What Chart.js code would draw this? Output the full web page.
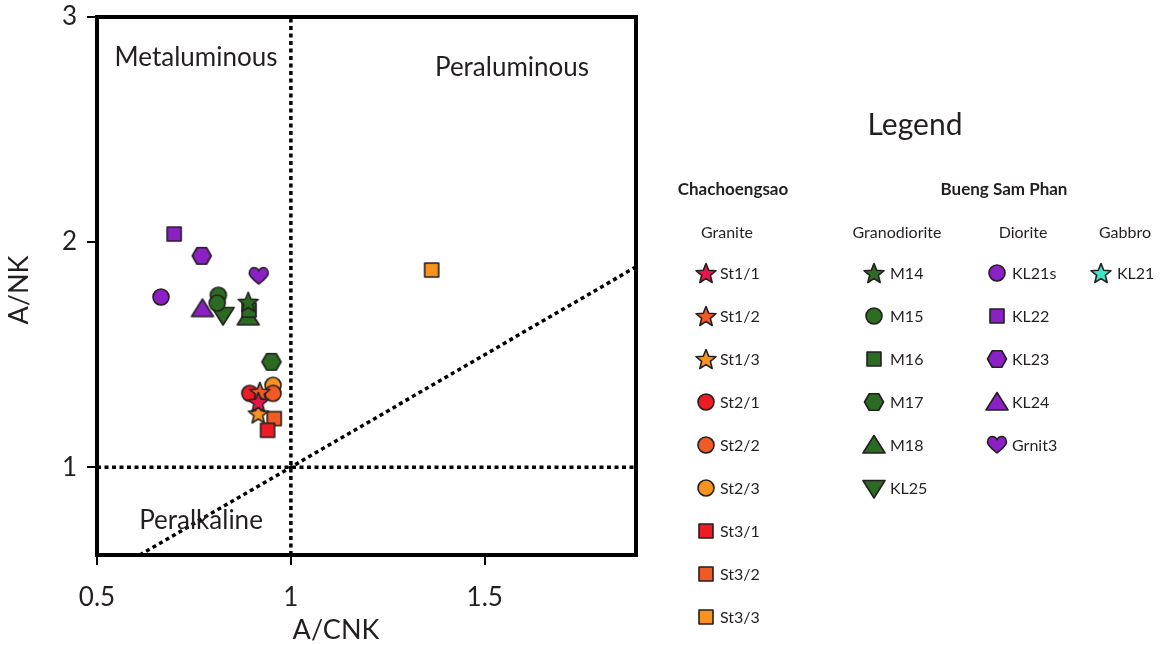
<!DOCTYPE html>
<html>
<head>
<meta charset="utf-8">
<script src="https://cdn.jsdelivr.net/npm/chart.js@4"></script>
<style>
html,body{margin:0;padding:0;background:#fff;}
#wrap{width:1168px;height:645px;position:relative;}
</style>
</head>
<body>
<div id="wrap"><canvas id="c" width="1168" height="645"></canvas></div>
<script>
// ---------------- DATA ----------------
const xTicks = [0.5, 1, 1.5];
const yTicks = [1, 2, 3];
const xRange = [0.5, 1.89];
const yRange = [0.61, 3];
const boundaryACNK = 1;   // metaluminous / peraluminous
const boundaryANK = 1;    // peralkaline

const seriesNames = ['St1/1','St1/2','St1/3','St2/1','St2/2','St2/3','St3/1','St3/2','St3/3',
                     'M14','M15','M16','M17','M18','KL25',
                     'KL21s','KL22','KL23','KL24','Grnit3',
                     'KL21'];
const seriesACNK = [[0.916],[0.920],[0.916],[0.894],[0.954],[0.954],[0.940],[0.957],[1.363],
                    [0.890],[0.813,0.810],[0.892],[0.950],[0.890],[0.825],
                    [0.665],[0.699],[0.770],[0.772],[0.917],
                    []];
const seriesANK  = [[1.290],[1.335],[1.239],[1.328],[1.328],[1.364],[1.164],[1.216],[1.876],
                    [1.735],[1.764,1.729],[1.698],[1.468],[1.668],[1.676],
                    [1.756],[2.036],[1.939],[1.705],[1.849],
                    []];

const locationNames = ['Chachoengsao', 'Bueng Sam Phan'];
const rockGroups = [
  {name:'Granite',      members:['St1/1','St1/2','St1/3','St2/1','St2/2','St2/3','St3/1','St3/2','St3/3']},
  {name:'Granodiorite', members:['M14','M15','M16','M17','M18','KL25']},
  {name:'Diorite',      members:['KL21s','KL22','KL23','KL24','Grnit3']},
  {name:'Gabbro',       members:['KL21']}
];
const regionLabels = ['Metaluminous','Peraluminous','Peralkaline'];
const axisTitles = {x:'A/CNK', y:'A/NK'};

// ---------------- STYLES ----------------
const RED='#ed1c24', ORR='#f15a24', ORG='#f7931e', PINK='#e8174a', GRN='#2c6b22', PUR='#8b21c4', CYAN='#3fe3c6';
const seriesShape = ['star','star','star','circle','circle','circle','square','square','square',
                     'star','circle','square','hexagon','triUp','triDown',
                     'circle','square','hexagon','triUp','heart',
                     'star'];
const seriesColor = [PINK,ORR,ORG,RED,ORR,ORG,RED,ORR,ORG,
                     GRN,GRN,GRN,GRN,GRN,GRN,
                     PUR,PUR,PUR,PUR,PUR,
                     CYAN];
const FONT = 'Lato, "Open Sans", sans-serif';
const INK = '#231f20';

function makeMarker(shape, fill) {
  const s = 26;
  const c = document.createElement('canvas');
  c.width = s; c.height = s;
  const g = c.getContext('2d');
  g.translate(s/2, s/2);
  g.beginPath();
  if (shape === 'circle') {
    g.arc(0, 0, 8, 0, Math.PI*2);
  } else if (shape === 'square') {
    g.rect(-7, -7, 14, 14);
  } else if (shape === 'star') {
    const R = 10.5, r = 4.6;
    for (let i = 0; i < 10; i++) {
      const ang = -Math.PI/2 + i*Math.PI/5;
      const rr = i % 2 === 0 ? R : r;
      const px = Math.cos(ang)*rr, py = Math.sin(ang)*rr + 1;
      if (i === 0) g.moveTo(px, py); else g.lineTo(px, py);
    }
    g.closePath();
  } else if (shape === 'hexagon') {
    const R = 9.5;
    for (let i = 0; i < 6; i++) {
      const ang = i*Math.PI/3;
      const px = Math.cos(ang)*R, py = Math.sin(ang)*R;
      if (i === 0) g.moveTo(px, py); else g.lineTo(px, py);
    }
    g.closePath();
  } else if (shape === 'triUp') {
    g.moveTo(0, -9.5); g.lineTo(11, 8); g.lineTo(-11, 8); g.closePath();
  } else if (shape === 'triDown') {
    g.moveTo(0, 10); g.lineTo(11, -7.5); g.lineTo(-11, -7.5); g.closePath();
  } else if (shape === 'heart') {
    g.moveTo(0, 8);
    g.bezierCurveTo(-4, 4.5, -9.5, 1, -9.5, -3);
    g.bezierCurveTo(-9.5, -7, -6.5, -8.5, -4.8, -8.5);
    g.bezierCurveTo(-2.2, -8.5, -0.6, -6.8, 0, -5.2);
    g.bezierCurveTo(0.6, -6.8, 2.2, -8.5, 4.8, -8.5);
    g.bezierCurveTo(6.5, -8.5, 9.5, -7, 9.5, -3);
    g.bezierCurveTo(9.5, 1, 4, 4.5, 0, 8);
    g.closePath();
  }
  g.fillStyle = fill;
  g.fill();
  g.lineWidth = 1.6;
  g.lineJoin = 'round';
  g.strokeStyle = INK;
  g.stroke();
  return c;
}

const markers = seriesNames.map((n, i) => makeMarker(seriesShape[i], seriesColor[i]));

// ---------------- DATASETS ----------------
const lineStyle = {showLine:true, borderColor:'#000', borderWidth:3.5, borderDash:[4,3.5], pointRadius:0, pointHoverRadius:0, fill:false, order:10, borderCapStyle:'butt'};
const datasets = [];
seriesNames.forEach((n, i) => {
  datasets.push({
    label: n,
    data: seriesACNK[i].map((x, k) => ({x, y: seriesANK[i][k]})),
    pointStyle: markers[i],
    pointRadius: 8,
    order: 0
  });
});
datasets.push(Object.assign({label:'A/CNK = 1', data:[{x:boundaryACNK, y:yRange[0]},{x:boundaryACNK, y:yRange[1]}]}, lineStyle));
datasets.push(Object.assign({label:'A/NK = 1', data:[{x:xRange[0], y:boundaryANK},{x:xRange[1], y:boundaryANK}]}, lineStyle));
const dLo = Math.max(xRange[0], yRange[0]), dHi = Math.min(xRange[1], yRange[1]);
datasets.push(Object.assign({label:'A/NK = A/CNK', data:[{x:dLo, y:dLo},{x:dHi, y:dHi}]}, lineStyle));

// ---------------- OVERLAY PLUGIN ----------------
const overlay = {
  id: 'overlay',
  afterDatasetsDraw(chart) {
    const {ctx, chartArea:a} = chart;
    ctx.save();
    ctx.strokeStyle = '#000';
    ctx.lineWidth = 4;
    ctx.strokeRect(a.left, a.top, a.right - a.left, a.bottom - a.top);
    ctx.restore();
  },
  afterDraw(chart) {
    const {ctx, chartArea:a} = chart;
    ctx.save();
    ctx.fillStyle = INK;
    ctx.textBaseline = 'middle';
    ctx.textAlign = 'center';
    // region labels
    ctx.font = '26px ' + FONT;
    ctx.fillText(regionLabels[0], a.left + 99, a.top + 41);
    ctx.fillText(regionLabels[1], a.left + 415, a.top + 51);
    ctx.fillText(regionLabels[2], a.left + 104, a.bottom - 34);
    // axis titles
    ctx.font = '27px ' + FONT;
    ctx.fillText(axisTitles.x, 336, 630);
    ctx.save();
    ctx.translate(19, 290);
    ctx.rotate(-Math.PI/2);
    ctx.fillText(axisTitles.y, 0, 0);
    ctx.restore();

    // legend
    ctx.font = '30px ' + FONT;
    ctx.fillText('Legend', 915, 125);
    ctx.font = 'bold 17px ' + FONT;
    ctx.fillText(locationNames[0], 733, 190);
    ctx.fillText(locationNames[1], 1004, 190);
    const cols = [
      {head:727, mark:706, text:720},
      {head:897, mark:874, text:890},
      {head:1023, mark:997, text:1012},
      {head:1125, mark:1101, text:1117}
    ];
    rockGroups.forEach((grp, gi) => {
      const col = cols[gi];
      ctx.font = '16px ' + FONT;
      ctx.textAlign = 'center';
      ctx.fillText(grp.name, col.head, 233);
      grp.members.forEach((m, k) => {
        const idx = seriesNames.indexOf(m);
        const y = 273 + k*43;
        const img = markers[idx];
        ctx.drawImage(img, col.mark - img.width/2, y - img.height/2);
        ctx.textAlign = 'left';
        ctx.fillText(m, col.text, y + 1);
      });
    });
    ctx.restore();
  }
};

// ---------------- CHART ----------------
new Chart(document.getElementById('c'), {
  type: 'scatter',
  data: {datasets},
  options: {
    responsive: false,
    animation: false,
    events: [],
    layout: {padding: {left:0, top:17, right:532, bottom:0}},
    plugins: {legend:{display:false}, tooltip:{enabled:false}},
    scales: {
      x: {
        type: 'linear',
        min: xRange[0], max: xRange[1],
        afterBuildTicks: s => { s.ticks = xTicks.map(v => ({value:v})); },
        afterFit: s => { s.height = 90; s.paddingLeft = 0; s.paddingRight = 0; },
        grid: {display:true, drawOnChartArea:false, drawTicks:true, tickLength:10, color:'#000', lineWidth:2},
        border: {display:false},
        ticks: {color:INK, font:{family:FONT, size:26}, padding:17, maxRotation:0, autoSkip:false, callback: v => String(v)}
      },
      y: {
        type: 'linear',
        min: yRange[0], max: yRange[1],
        afterBuildTicks: s => { s.ticks = yTicks.map(v => ({value:v})); },
        afterFit: s => { s.width = 97; s.paddingTop = 0; s.paddingBottom = 0; },
        grid: {display:true, drawOnChartArea:false, drawTicks:true, tickLength:10, color:'#000', lineWidth:2},
        border: {display:false},
        ticks: {color:INK, font:{family:FONT, size:26}, padding:10, autoSkip:false, callback: v => String(v)}
      }
    }
  },
  plugins: [overlay]
});
</script>
</body>
</html>
